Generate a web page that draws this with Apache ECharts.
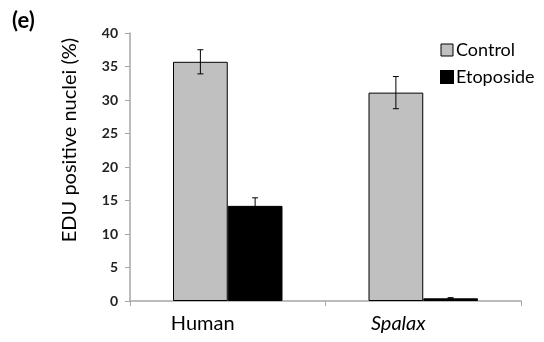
<!DOCTYPE html>
<html><head><meta charset="utf-8">
<script src="https://cdn.jsdelivr.net/npm/echarts@6/dist/echarts.min.js"></script>
<style>html,body{margin:0;padding:0;background:#fff}#c{width:544px;height:342px}</style>
</head><body><div id="c"></div>
<script>
const categories = ['Human', 'Spalax'];
const controlValues = [35.7, 31.1];
const controlErrors = [1.8, 2.4];
const etoposideValues = [14.2, 0.4];
const etoposideErrors = [1.2, 0.1];
const yTicks = [0, 5, 10, 15, 20, 25, 30, 35, 40];

const FONT = 'Lato, "Liberation Sans", sans-serif';
const CAT_GAP = 0.44;

function errSeries(vals, errs, side) {
  return {
    type: 'custom',
    z: 5,
    data: vals.map((v, i) => [i, v, errs[i]]),
    renderItem: function (params, api) {
      const i = api.value(0), v = api.value(1), e = api.value(2);
      const band = api.size([1, 0])[0];
      const barW = band * (1 - CAT_GAP) / 2;
      const c = api.coord([i, v]);
      const x = c[0] + side * barW / 2;
      const yt = api.coord([i, v + e])[1];
      const yb = api.coord([i, v - e])[1];
      const cap = 3;
      const style = { stroke: '#000', lineWidth: 1, fill: null };
      return {
        type: 'group',
        children: [
          { type: 'line', shape: { x1: x, y1: yt, x2: x, y2: yb }, style },
          { type: 'line', shape: { x1: x - cap, y1: yt, x2: x + cap, y2: yt }, style },
          { type: 'line', shape: { x1: x - cap, y1: yb, x2: x + cap, y2: yb }, style }
        ]
      };
    }
  };
}

const chart = echarts.init(document.getElementById('c'));
chart.setOption({
  animation: false,
  backgroundColor: '#fff',
  graphic: [
    {
      type: 'text', x: 12, y: 21,
      style: { text: '(e)', fontFamily: FONT, fontSize: 22, fontWeight: 'bold', fill: '#000', verticalAlign: 'middle' }
    },
    {
      type: 'text', x: 70, y: 140, rotation: Math.PI / 2,
      style: {
        text: 'EDU positive nuclei (%)', fontFamily: FONT, fontSize: 20, fill: '#000',
        align: 'center', verticalAlign: 'middle'
      }
    }
  ],
  legend: {
    orient: 'vertical',
    left: 435, top: 36,
    itemWidth: 12, itemHeight: 12, itemGap: 9,
    icon: 'rect',
    textStyle: { fontFamily: FONT, fontSize: 18, color: '#000', padding: [0, 0, 0, -2] },
    data: [
      { name: 'Control', itemStyle: { color: '#c0c0c0', borderColor: '#000', borderWidth: 1 } },
      { name: 'Etoposide', itemStyle: { color: '#000' } }
    ]
  },
  grid: { left: 130, right: 23, top: 33, bottom: 41 },
  xAxis: {
    type: 'category',
    data: categories,
    axisLine: { lineStyle: { color: '#a6a6a6', width: 1.5 } },
    axisTick: { show: true, length: 5, lineStyle: { color: '#a6a6a6' }, alignWithLabel: false },
    axisLabel: {
      fontFamily: FONT, fontSize: 20, color: '#000', margin: 13,
      padding: [0, 50, 0, 0],
      formatter: function (v) { return v === 'Spalax' ? '{i|' + v + '}' : v; },
      rich: { i: { fontFamily: FONT, fontSize: 20, fontStyle: 'italic', color: '#000' } }
    }
  },
  yAxis: {
    type: 'value',
    min: yTicks[0], max: yTicks[yTicks.length - 1], interval: 5,
    axisLine: { show: true, lineStyle: { color: '#a6a6a6', width: 1.5 } },
    axisTick: { show: true, length: 5, lineStyle: { color: '#a6a6a6' } },
    axisLabel: { fontFamily: FONT, fontSize: 14, fontWeight: 'bold', color: '#222', margin: 12 },
    splitLine: { show: false }
  },
  series: [
    {
      name: 'Control', type: 'bar', data: controlValues,
      barGap: '0%', barCategoryGap: (CAT_GAP * 100) + '%',
      itemStyle: { color: '#c0c0c0', borderColor: '#000', borderWidth: 1 }
    },
    {
      name: 'Etoposide', type: 'bar', data: etoposideValues,
      barGap: '0%', barCategoryGap: (CAT_GAP * 100) + '%',
      itemStyle: { color: '#000', borderColor: '#000', borderWidth: 1 }
    },
    errSeries(controlValues, controlErrors, -1),
    errSeries(etoposideValues, etoposideErrors, 1)
  ]
});
</script>
</body></html>
